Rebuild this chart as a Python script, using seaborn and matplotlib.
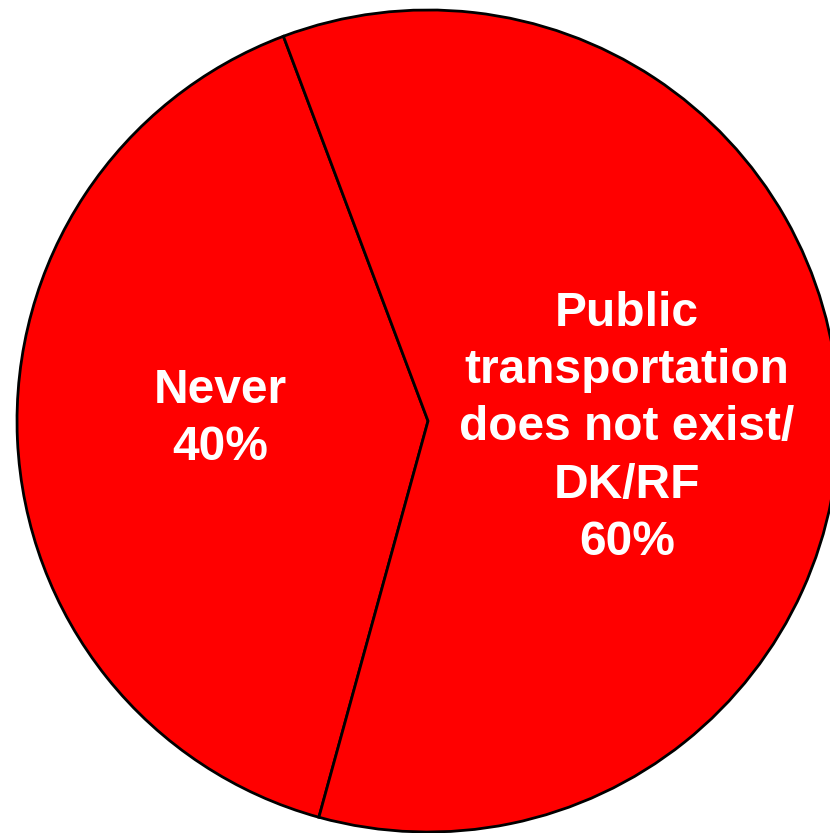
import numpy as np
import seaborn as sns
import matplotlib.pyplot as plt

# Data
categories = ['Never', 'Public\ntransportation\ndoes not exist/\nDK/RF']
shares = [40, 60]
slice_colors = ['#FF0000', '#FF0000']

# where each label block sits (axes data units, pie radius = 1)
label_pos = [(-0.506, 0.005), (0.484, -0.017)]

sns.set_style('white')
plt.rcParams['font.family'] = ['Liberation Sans', 'DejaVu Sans']

fig = plt.figure(figsize=(8.30, 8.33), dpi=100)
ax = fig.add_axes([0, 0, 1, 1])

wedges, _ = ax.pie(shares, colors=slice_colors,
                   startangle=110.6, counterclock=True,
                   wedgeprops=dict(edgecolor='black', linewidth=2))

for c, s, (x, y) in zip(categories, shares, label_pos):
    ax.text(x, y, f'{c}\n{s}%', ha='center', va='center', color='white',
            fontsize=34.5, fontweight='bold', linespacing=1.35)

ax.set_xlim(-1.0414, 0.978)
ax.set_ylim(-1.0024, 1.0243)
ax.set_aspect('equal')
ax.axis('off')

fig.savefig('out.png', dpi=100)
